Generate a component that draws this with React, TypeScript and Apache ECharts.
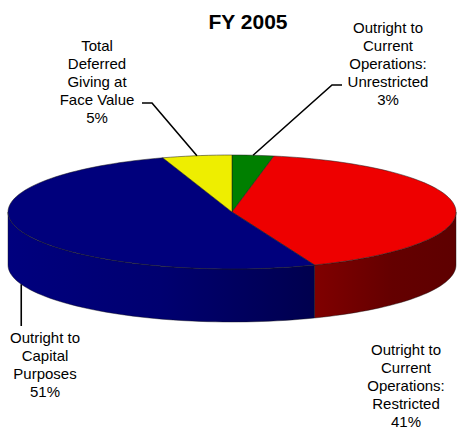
import React, { useEffect, useRef } from "react";
import * as echarts from "echarts";

const title = "FY 2005";
const categories = [
  "Outright to\nCurrent\nOperations:\nUnrestricted",
  "Outright to\nCurrent\nOperations:\nRestricted",
  "Outright to\nCapital\nPurposes",
  "Total\nDeferred\nGiving at\nFace Value",
];
const values = [3, 41, 51, 5];

const FONT = "Arial, 'Liberation Sans', sans-serif";
const CX = 232, CY = 212, RX = 224, RY = 57, DEPTH = 53;

const topColors = ["#007f00", "#ee0000", "#00007c", "#eeee00"];
const wallColors = [
  [["#004000", 0], ["#003000", 1]],
  [["#800000", 0], ["#640000", 0.55], ["#5e0000", 1]],
  [["#00007e", 0], ["#000070", 0.5], ["#00004e", 1]],
  [["#808000", 0], ["#606000", 1]],
];
// label layout: text centre x, text top y, leader elbow points (after anchor)
const labelLayout = [
  { x: 388, y: 18, elbows: [[332, 85], [342, 85]], onWall: false },
  { x: 406, y: 340, elbows: null, onWall: false },
  { x: 45, y: 328, elbows: [[null, 326]], onWall: true },
  { x: 97, y: 36, elbows: [[152, 103], [142, 103]], onWall: false },
];

const total = values.reduce((a, b) => a + b, 0);

function pt(deg: number, dy = 0): [number, number] {
  const r = (deg * Math.PI) / 180;
  return [CX + RX * Math.sin(r), CY - RY * Math.cos(r) + dy];
}

function arcPts(a1: number, a2: number, dy = 0) {
  const n = Math.max(2, Math.ceil(Math.abs(a2 - a1) / 2));
  const out: [number, number][] = [];
  for (let k = 0; k <= n; k++) out.push(pt(a1 + ((a2 - a1) * k) / n, dy));
  return out;
}

function toPath(points: [number, number][]) {
  return points.map((p, k) => (k === 0 ? "M" : "L") + p[0].toFixed(2) + " " + p[1].toFixed(2)).join(" ") + " Z";
}

export default function App() {
  const ref = useRef<HTMLDivElement>(null);
  useEffect(() => {
    if (!ref.current) return;
    const chart = echarts.init(ref.current, null, { renderer: "svg" });
    const renderItem = (params: any, api: any) => {
      const i = params.dataIndex;
      const v = api.value(0);
      let before = 0;
      for (let k = 0; k < i; k++) before += values[k];
      const a1 = (before / total) * 360;
      const a2 = ((before + v) / total) * 360;
      const children: any[] = [];
      const topPts: [number, number][] = [[CX, CY], ...arcPts(a1, a2)];
      children.push({
        type: "path",
        z2: 10,
        shape: { pathData: toPath(topPts) },
        style: { fill: topColors[i], stroke: "rgba(30,30,30,0.75)", lineWidth: 0.7 },
      });
      const s = Math.max(a1, 90), e = Math.min(a2, 270);
      if (s < e) {
        const wp = [...arcPts(s, e), ...arcPts(e, s, DEPTH)];
        children.push({
          type: "path",
          z2: 1,
          shape: { pathData: toPath(wp) },
          style: {
            fill: new echarts.graphic.LinearGradient(
              0, 0, 1, 0,
              wallColors[i].map((c) => ({ offset: c[1] as number, color: c[0] as string }))
            ),
            stroke: "rgba(20,20,20,0.7)",
            lineWidth: 0.6,
          },
        });
      }
      const L = labelLayout[i];
      const pct = Math.round((v / total) * 100);
      children.push({
        type: "text",
        z2: 20,
        x: L.x,
        y: L.y,
        style: {
          text: categories[i] + "\n" + pct + "%",
          fontSize: 15,
          fontFamily: FONT,
          lineHeight: 18,
          fill: "#000",
          align: "center",
          verticalAlign: "top",
          textAlign: "center",
          textVerticalAlign: "top",
        },
      });
      if (L.elbows) {
        const mid = (a1 + a2) / 2;
        const anchor = pt(mid, L.onWall ? DEPTH : 0);
        const pts: number[][] = [anchor, ...L.elbows.map((p) => [p[0] == null ? anchor[0] : p[0], p[1] as number])];
        children.push({
          type: "polyline",
          z2: 20,
          shape: { points: pts },
          style: { stroke: "#000", lineWidth: 1.6, fill: null },
        });
      }
      return { type: "group", children };
    };
    chart.setOption({
      animation: false,
      backgroundColor: "#fff",
      title: {
        text: title,
        left: 243,
        top: 6,
        textAlign: "center",
        textStyle: { fontFamily: FONT, fontSize: 21, fontWeight: "bold", color: "#000" },
      },
      series: [
        {
          type: "custom",
          coordinateSystem: "none",
          renderItem,
          data: values.map((v, i) => ({ value: [v], name: categories[i] })),
        },
      ],
    });
    return () => chart.dispose();
  }, []);
  return (
    <div
      ref={ref}
      style={{ position: "fixed", left: 0, top: 0, width: 457, height: 430, background: "#fff" }}
    />
  );
}
